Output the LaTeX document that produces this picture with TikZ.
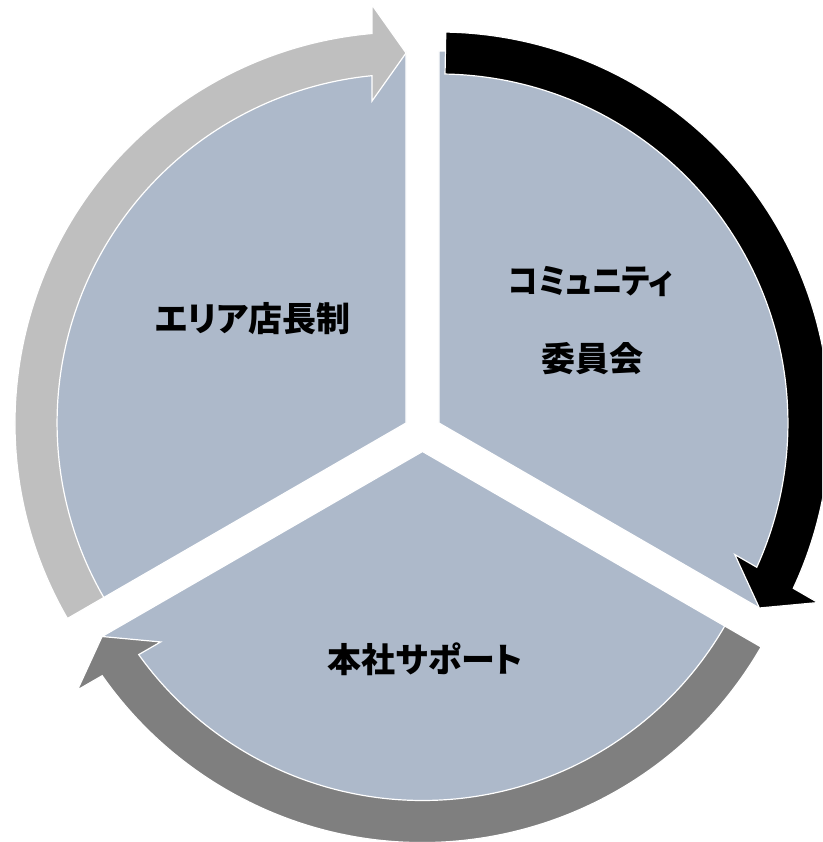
\documentclass[tikz,border=0pt]{standalone}
\usepackage{fontspec}
\newfontfamily\jp{Noto Sans CJK JP}[RawFeature=+palt]
\definecolor{sect}{HTML}{ADB9CA}
\definecolor{arrlight}{HTML}{BFBFBF}
\definecolor{arrdark}{HTML}{7F7F7F}
\newcommand\cyclearrow[4]{%
  \begin{scope}[shift={#1}, rotate=#2]
    \path[cyclearr, fill=#4]
      (#3:391) arc[start angle=#3, end angle=4.99, radius=391]
      -- (418,34) -- (370,0) -- (322,34)
      -- (5.59:349) arc[start angle=5.59, end angle=#3, radius=349] -- cycle;
  \end{scope}}
\begin{document}
\begin{tikzpicture}[x=1pt,y=1pt,
  sector/.style={fill=sect, draw=white, line width=1.2pt, line join=miter},
  cyclearr/.style={draw=white, line width=1.2pt, line join=miter},
  lbl/.style={font=\jp\bfseries\fontsize{34}{40}\selectfont, text=black, align=center, inner sep=0pt}]
\useasboundingbox (0,0) rectangle (822,-842);
\clip (0,0) rectangle (822,-842);
% sectors
\coordinate (cr) at (438.95,-423);
\coordinate (cl) at (406.05,-423);
\coordinate (cb) at (422.5,-451.5);
\path[sector] (cr) -- ++(90:372) arc[start angle=90, end angle=-30, radius=372] -- cycle;
\path[sector] (cl) -- ++(90:372) arc[start angle=90, end angle=210, radius=372] -- cycle;
\path[sector] (cb) -- ++(210:372) arc[start angle=210, end angle=330, radius=372] -- cycle;
% arrows
\cyclearrow{(438.95,-423)}{-30}{119}{black}
\cyclearrow{(406.05,-423)}{90}{120}{arrlight}
\cyclearrow{(422.5,-451.5)}{210}{120}{arrdark}
% labels
\node[lbl] (t1) at (591,-282) {\scalebox{0.9}[1]{コミュニティ}};
\node[lbl] (t2) at (592,-359) {委員会};
\node[lbl] (t3) at (252.5,-319) {エリア店長制};
\node[lbl] (t4) at (425.5,-659) {本社サポート};
\end{tikzpicture}
\end{document}
